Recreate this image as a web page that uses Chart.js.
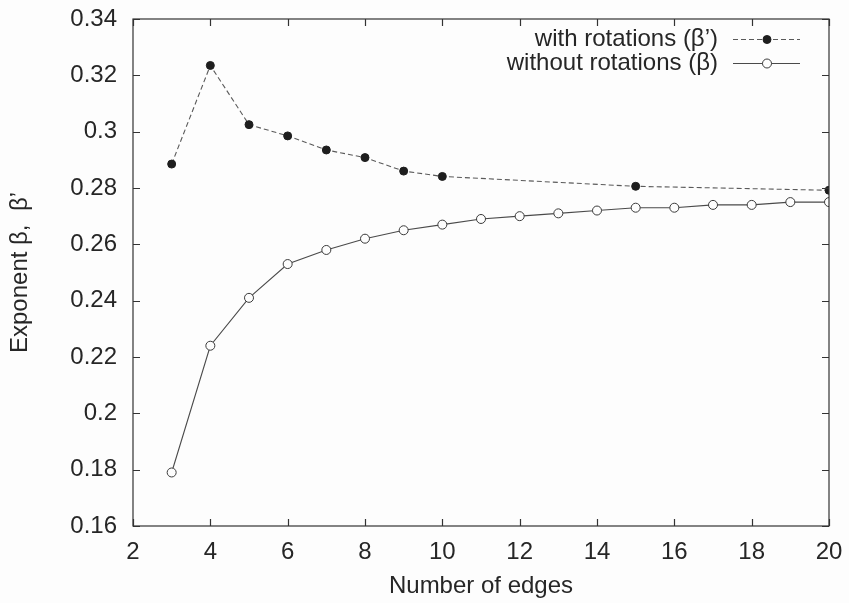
<!DOCTYPE html>
<html>
<head>
<meta charset="utf-8">
<script src="https://cdn.jsdelivr.net/npm/chart.js@4"></script>
<style>
  html, body { margin: 0; padding: 0; background: #fdfdfd; }
  #wrap { width: 849px; height: 603px; }
</style>
</head>
<body>
<div id="wrap"><canvas id="grafico"></canvas></div>
<script>
// exponent vs number of edges
const edgesRot = [3, 4, 5, 6, 7, 8, 9, 10, 15, 20];
const betaRot = [0.2885, 0.3235, 0.3025, 0.2985, 0.2935, 0.2908, 0.2860, 0.2841, 0.2806, 0.2792];

const edgesNoRot = [3, 4, 5, 6, 7, 8, 9, 10, 11, 12, 13, 14, 15, 16, 17, 18, 19, 20];
const betaNoRot = [0.179, 0.224, 0.241, 0.253, 0.258, 0.262, 0.265, 0.267, 0.269, 0.270,
                   0.271, 0.272, 0.273, 0.273, 0.274, 0.274, 0.275, 0.275];

const seriesNames = ['with rotations (\u03b2\u2019)', 'without rotations (\u03b2)'];
const xTicks = [2, 4, 6, 8, 10, 12, 14, 16, 18, 20];
const yTicks = [0.16, 0.18, 0.2, 0.22, 0.24, 0.26, 0.28, 0.3, 0.32, 0.34];

const FONT = '"Liberation Sans", Arial, sans-serif';
const FSIZE = 24;
const INK = '#262626';

function toPoints(xs, ys) {
    return xs.map((x, i) => ({ x: x, y: ys[i] }));
}

// frame with inward ticks on all four sides + legend at top right
const framePlugin = {
    id: 'frame',
    afterDatasetsDraw(chart) {
        const ctx = chart.ctx;
        const a = chart.chartArea;
        const xs = chart.scales.x, ys = chart.scales.y;
        const tl = 7;
        ctx.save();
        ctx.strokeStyle = '#333';
        ctx.lineWidth = 1.2;
        ctx.setLineDash([]);
        ctx.strokeRect(a.left, a.top, a.right - a.left, a.bottom - a.top);
        ctx.beginPath();
        xTicks.forEach(v => {
            const px = Math.round(xs.getPixelForValue(v)) + 0.5;
            ctx.moveTo(px, a.bottom); ctx.lineTo(px, a.bottom - tl);
            ctx.moveTo(px, a.top); ctx.lineTo(px, a.top + tl);
        });
        yTicks.forEach(v => {
            const py = Math.round(ys.getPixelForValue(v)) + 0.5;
            ctx.moveTo(a.left, py); ctx.lineTo(a.left + tl, py);
            ctx.moveTo(a.right, py); ctx.lineTo(a.right - tl, py);
        });
        ctx.stroke();

        // legend
        ctx.font = FSIZE + 'px ' + FONT;
        ctx.fillStyle = INK;
        ctx.textAlign = 'right';
        ctx.textBaseline = 'middle';
        const textX = 718, x0 = 733, x1 = 800, mx = 767;
        chart.data.datasets.forEach((ds, i) => {
            const y = 39 + i * 24;
            ctx.fillText(ds.label, textX, y);
            ctx.beginPath();
            ctx.strokeStyle = ds.borderColor;
            ctx.lineWidth = ds.borderWidth;
            ctx.setLineDash(ds.borderDash || []);
            ctx.moveTo(x0, y + 0.5); ctx.lineTo(x1, y + 0.5);
            ctx.stroke();
            ctx.setLineDash([]);
            ctx.beginPath();
            ctx.arc(mx, y + 0.5, ds.pointRadius, 0, Math.PI * 2);
            ctx.fillStyle = ds.pointBackgroundColor;
            ctx.fill();
            ctx.lineWidth = ds.pointBorderWidth;
            ctx.strokeStyle = ds.pointBorderColor;
            ctx.stroke();
            ctx.fillStyle = INK;
        });
        ctx.restore();
    }
};

const ctx = document.getElementById('grafico');

new Chart(ctx, {
    type: 'line',
    data: {
        datasets: [{
            label: seriesNames[0],
            data: toPoints(edgesRot, betaRot),
            borderColor: '#5a5a5a',
            borderWidth: 1.1,
            borderDash: [5, 3],
            pointRadius: 4,
            pointBackgroundColor: '#1e1e1e',
            pointBorderColor: '#1e1e1e',
            pointBorderWidth: 1,
            tension: 0
        }, {
            label: seriesNames[1],
            data: toPoints(edgesNoRot, betaNoRot),
            borderColor: '#4a4a4a',
            borderWidth: 1.1,
            pointRadius: 4.5,
            pointBackgroundColor: '#fdfdfd',
            pointBorderColor: '#3a3a3a',
            pointBorderWidth: 1,
            tension: 0
        }]
    },
    options: {
        responsive: true,
        maintainAspectRatio: false,
        animation: false,
        layout: { padding: { top: 19, right: 20, left: 0, bottom: 0 } },
        plugins: {
            legend: { display: false },
            tooltip: { enabled: false }
        },
        scales: {
            x: {
                type: 'linear',
                min: 2,
                max: 20,
                afterFit(scale) {
                    scale.height = 77;
                    scale.paddingLeft = 0;
                    scale.paddingRight = 0;
                },
                afterBuildTicks(scale) { scale.ticks = xTicks.map(v => ({ value: v })); },
                grid: { display: false, drawTicks: false },
                border: { display: false },
                ticks: {
                    padding: 12,
                    color: INK,
                    font: { family: FONT, size: FSIZE },
                    maxRotation: 0
                },
                title: {
                    display: true,
                    text: 'Number of edges',
                    color: INK,
                    font: { family: FONT, size: FSIZE },
                    padding: { top: 0, bottom: 2 }
                }
            },
            y: {
                min: 0.16,
                max: 0.34,
                afterFit(scale) {
                    scale.width = 133;
                    scale.paddingTop = 0;
                    scale.paddingBottom = 0;
                },
                afterBuildTicks(scale) { scale.ticks = yTicks.map(v => ({ value: v })); },
                grid: { display: false, drawTicks: false },
                border: { display: false },
                ticks: {
                    padding: 16,
                    color: INK,
                    font: { family: FONT, size: FSIZE },
                    callback: v => String(parseFloat(v.toFixed(2)))
                },
                title: {
                    display: true,
                    text: 'Exponent \u03b2,  \u03b2\u2019',
                    color: INK,
                    font: { family: FONT, size: FSIZE },
                    padding: { top: 6, bottom: 0 }
                }
            }
        }
    },
    plugins: [framePlugin]
});
</script>
</body>
</html>
